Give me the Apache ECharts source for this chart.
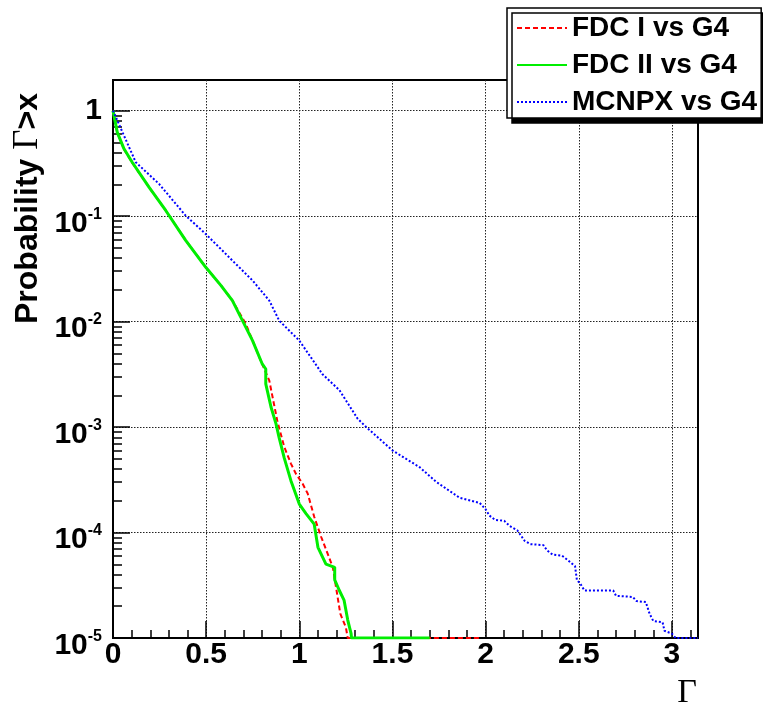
<!DOCTYPE html>
<html><head><meta charset="utf-8">
<script src="https://cdn.jsdelivr.net/npm/echarts@6/dist/echarts.min.js"></script>
<style>html,body{margin:0;padding:0;background:#fff}#c{width:763px;height:709px}</style>
</head><body><div id="c"></div>
<script>
const seriesNames = ['FDC I vs G4', 'FDC II vs G4', 'MCNPX vs G4'];

const fdc1Gamma = [0, 0.023, 0.059, 0.103, 0.194, 0.283, 0.39, 0.498, 0.58, 0.641, 0.713, 0.785, 0.839, 0.883, 0.919, 0.955, 0.982, 1.018, 1.045, 1.08, 1.117, 1.152, 1.18, 1.20, 1.22, 1.25, 1.26, 1.98];
const fdc1Prob = [1, 0.62, 0.43, 0.32, 0.187, 0.113, 0.059, 0.0327, 0.0219, 0.0158, 0.0095, 0.0046, 0.00275, 0.00112, 0.00065, 0.00045, 0.00036, 0.00029, 0.000234, 0.000141, 0.0000912, 0.0000631, 0.0000468, 0.0000282, 0.000017, 0.0000126, 0.00001, 0.00001];

const fdc2Gamma = [0, 0.023, 0.059, 0.103, 0.194, 0.283, 0.39, 0.498, 0.58, 0.641, 0.695, 0.749, 0.80, 0.82, 0.82, 0.848, 0.875, 0.892, 0.919, 0.955, 1.0, 1.036, 1.08, 1.10, 1.143, 1.19, 1.19, 1.215, 1.24, 1.26, 1.278, 1.28, 1.70];
const fdc2Prob = [1, 0.622, 0.434, 0.324, 0.187, 0.113, 0.0589, 0.0327, 0.0219, 0.0158, 0.0102, 0.0066, 0.0040, 0.00355, 0.00257, 0.00155, 0.00107, 0.00079, 0.00051, 0.00031, 0.000186, 0.000151, 0.00012, 0.0000724, 0.0000501, 0.0000468, 0.0000355, 0.0000282, 0.0000229, 0.0000148, 0.000011, 0.00001, 0.00001];

const mcnpxGamma = [0, 0.059, 0.122, 0.247, 0.39, 0.498, 0.64, 0.749, 0.839, 0.892, 1.0, 1.125, 1.215, 1.313, 1.359, 1.50, 1.645, 1.735, 1.86, 1.968, 2.0, 2.02, 2.05, 2.10, 2.13, 2.17, 2.21, 2.24, 2.31, 2.33, 2.36, 2.41, 2.44, 2.48, 2.49, 2.51, 2.53, 2.685, 2.70, 2.79, 2.81, 2.86, 2.88, 2.90, 2.95, 2.96, 3.00, 3.02, 3.14];
const mcnpxProb = [1, 0.579, 0.324, 0.202, 0.101, 0.0676, 0.038, 0.0245, 0.0158, 0.0102, 0.0066, 0.00316, 0.00224, 0.0012, 0.001, 0.0006, 0.000417, 0.000302, 0.000214, 0.000191, 0.000166, 0.000145, 0.000132, 0.000129, 0.000115, 0.000105, 0.0000832, 0.0000776, 0.0000759, 0.0000676, 0.0000617, 0.0000603, 0.000055, 0.0000479, 0.0000355, 0.0000324, 0.0000282, 0.0000282, 0.0000251, 0.0000245, 0.0000224, 0.0000219, 0.000017, 0.0000145, 0.0000141, 0.0000117, 0.000011, 0.00001, 0.00001];

const xTickValues = [0, 0.5, 1, 1.5, 2, 2.5, 3];
const xTickLabels = ['0', '0.5', '1', '1.5', '2', '2.5', '3'];
const xMinorTickValues = [0.1, 0.2, 0.3, 0.4, 0.6, 0.7, 0.8, 0.9, 1.1, 1.2, 1.3, 1.4, 1.6, 1.7, 1.8, 1.9, 2.1, 2.2, 2.3, 2.4, 2.6, 2.7, 2.8, 2.9, 3.1];
const yTickValues = [1e-5, 1e-4, 1e-3, 1e-2, 1e-1, 1];
const yTickExponents = [-5, -4, -3, -2, -1, 0];
const yMinorMantissas = [2, 3, 4, 5, 6, 7, 8, 9];
const xTitle = 'Γ';
const yTitle = ['Probability ', 'Γ', '>x'];

const yMinorTickValues = [];
yTickExponents.slice(0, -1).forEach(function (e) {
  yMinorMantissas.forEach(function (m) { yMinorTickValues.push(m * Math.pow(10, e)); });
});

function zip(a, b) { return a.map(function (v, i) { return [v, b[i]]; }); }

const SANS = 'Liberation Sans, Arial, Helvetica, sans-serif';
const SERIF = 'Liberation Serif, Times New Roman, serif';
const gridLine = { show: true, lineStyle: { color: '#222', width: 1, type: [1.5, 1.5] } };

const chart = echarts.init(document.getElementById('c'));
chart.setOption({
  animation: false,
  backgroundColor: '#fff',
  grid: { left: 113, right: 65, top: 80, bottom: 71, show: true, borderColor: '#000', borderWidth: 2, backgroundColor: 'transparent' },
  legend: {
    data: seriesNames, orient: 'vertical', left: 507, top: 8,
    backgroundColor: '#fff', borderColor: '#000', borderWidth: 1.5,
    padding: [6, 4, 2, 9], itemWidth: 50, itemHeight: 14, itemGap: 9,
    shadowColor: '#000', shadowOffsetX: 5, shadowOffsetY: 5, shadowBlur: 0.01,
    itemStyle: { opacity: 0 },
    textStyle: { fontSize: 28, fontWeight: 'bold', color: '#000', fontFamily: SANS },
    selectedMode: false
  },
  xAxis: [{
    type: 'value', min: 0, max: 3.14, position: 'bottom',
    axisLine: { onZero: false, lineStyle: { color: '#000', width: 2 } },
    axisTick: { inside: true, length: 17, customValues: xTickValues, lineStyle: { color: '#000', width: 1.5 } },
    axisLabel: {
      customValues: xTickValues, margin: 2, color: '#000', fontSize: 30, fontWeight: 'bold', fontFamily: SANS,
      formatter: function (v) { const i = xTickValues.indexOf(v); return i >= 0 ? xTickLabels[i] : ''; }
    },
    splitLine: gridLine
  }, {
    type: 'value', min: 0, max: 3.14, position: 'bottom',
    axisLine: { show: false, onZero: false },
    axisTick: { inside: true, length: 8, customValues: xMinorTickValues, lineStyle: { color: '#000', width: 1.5 } },
    axisLabel: { show: false }, splitLine: { show: false }
  }],
  yAxis: [{
    type: 'log', logBase: 10, min: 1e-5, max: 1.95, position: 'left',
    axisLine: { onZero: false, lineStyle: { color: '#000', width: 2 } },
    axisTick: { inside: true, length: 17, customValues: yTickValues, lineStyle: { color: '#000', width: 1.5 } },
    axisLabel: {
      customValues: yTickValues, margin: 11, color: '#000',
      formatter: function (v) {
        const e = Math.round(Math.log10(v));
        if (e === 0) return '{one|1}';
        return '{b|10}{s|' + e + '}';
      },
      rich: {
        one: { fontSize: 30, fontWeight: 'bold', fontFamily: SANS, color: '#000' },
        b: { fontSize: 30, fontWeight: 'bold', fontFamily: SANS, color: '#000', padding: [15, 0, 0, 0] },
        s: { fontSize: 16, fontWeight: 'bold', fontFamily: SANS, color: '#000', verticalAlign: 'top', padding: [13, 0, 0, 0] }
      }
    },
    splitLine: gridLine
  }, {
    type: 'log', logBase: 10, min: 1e-5, max: 1.95, position: 'left',
    axisLine: { show: false, onZero: false },
    axisTick: { inside: true, length: 9, customValues: yMinorTickValues, lineStyle: { color: '#000', width: 1.5 } },
    axisLabel: { show: false }, splitLine: { show: false }
  }],
  series: [{
    name: seriesNames[0], type: 'line', xAxisIndex: 0, yAxisIndex: 0, symbol: 'none', showSymbol: false,
    data: zip(fdc1Gamma, fdc1Prob), color: '#ff0000',
    lineStyle: { color: '#ff0000', width: 2, type: [5, 3] }
  }, {
    name: seriesNames[1], type: 'line', xAxisIndex: 0, yAxisIndex: 0, symbol: 'none', showSymbol: false,
    data: zip(fdc2Gamma, fdc2Prob), color: '#00ee00',
    lineStyle: { color: '#00ee00', width: 3 }
  }, {
    name: seriesNames[2], type: 'line', xAxisIndex: 0, yAxisIndex: 0, symbol: 'none', showSymbol: false,
    data: zip(mcnpxGamma, mcnpxProb), color: '#0000ff',
    lineStyle: { color: '#0000ff', width: 2, type: [2, 2] }
  }],
  graphic: [{
    type: 'text', x: 28, y: 324, rotation: Math.PI / 2,
    style: {
      text: '{a|' + yTitle[0] + '}{g|' + yTitle[1] + '}{a|' + yTitle[2] + '}',
      align: 'left', verticalAlign: 'middle',
      rich: {
        a: { fontSize: 32, fontWeight: 'bold', fontFamily: SANS, fill: '#000' },
        g: { fontSize: 35, fontFamily: SERIF, fill: '#000' }
      }
    }
  }, {
    type: 'text', x: 687, y: 693,
    style: { text: xTitle, align: 'center', verticalAlign: 'middle', fontSize: 34, fontFamily: SERIF, fill: '#000' }
  }]
});
</script></body></html>
